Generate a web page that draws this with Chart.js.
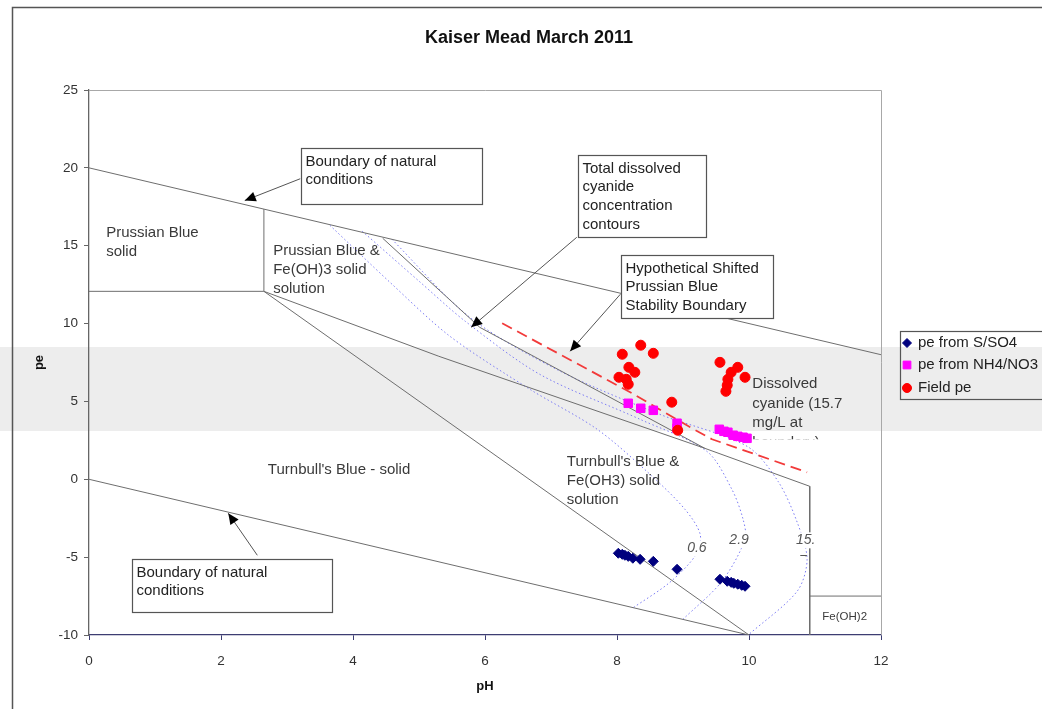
<!DOCTYPE html>
<html>
<head>
<meta charset="utf-8">
<title>Kaiser Mead March 2011</title>
<script src="https://cdn.jsdelivr.net/npm/chart.js@4.4.0/dist/chart.umd.min.js"></script>
<style>
  html, body { margin: 0; padding: 0; background: #fff; }
  #wrap { width: 1042px; height: 709px; }
</style>
</head>
<body>
<div id="wrap"><canvas id="chart" width="1042" height="709"></canvas></div>
<script>
// ---------- measured points ----------
const sulfatePH = [8.02, 8.08, 8.12, 8.17, 8.24, 8.35, 8.55, 8.91, 9.56, 9.67, 9.73, 9.77, 9.83, 9.89, 9.94];
const sulfatePE = [-4.75, -4.82, -4.88, -4.95, -5.07, -5.14, -5.27, -5.78, -6.42, -6.55, -6.62, -6.68, -6.74, -6.81, -6.87];

const nitratePH = [8.17, 8.36, 8.55, 8.91, 8.91, 9.55, 9.62, 9.68, 9.76, 9.83, 9.91, 9.97];
const nitratePE = [4.88, 4.56, 4.43, 3.60, 3.28, 3.21, 3.08, 3.02, 2.83, 2.76, 2.70, 2.63];

const fieldPH = [8.08, 8.36, 8.55, 8.18, 8.27, 8.03, 8.14, 8.17, 8.83, 8.92, 9.56, 9.83, 9.94, 9.73, 9.68, 9.67, 9.65];
const fieldPE = [8.03, 8.61, 8.09, 7.19, 6.87, 6.55, 6.42, 6.10, 4.95, 3.15, 7.51, 7.19, 6.55, 6.87, 6.42, 6.04, 5.65];

// ---------- stability field boundaries ----------
const upperNaturalPH = [0, 12];
const upperNaturalPE = [20, 8];
const lowerNaturalPH = [0, 10];
const lowerNaturalPE = [0, -10];
const prussianBoxPH = [0, 2.65, 2.65];
const prussianBoxPE = [12.07, 12.07, 17.35];
const turnbullSteepPH = [2.65, 10];
const turnbullSteepPE = [12.07, -10];
const turnbullUpperPH = [2.65, 5.3, 9.33];
const turnbullUpperPE = [12.07, 7.9, 1.99];
const dissolvedEdgePH = [4.45, 5.92, 9.33, 10.92, 10.92];
const dissolvedEdgePE = [15.48, 9.76, 1.99, -0.45, -10];
const ferrousEdgePH = [10.92, 12];
const ferrousEdgePE = [-7.5, -7.5];

// hypothetical shifted Prussian Blue boundary
const shiftedPH = [6.26, 8.20, 9.11, 9.44, 10.88];
const shiftedPE = [10.02, 5.59, 3.34, 2.57, 0.45];

// total dissolved cyanide contours (mg/L)
const contourLevels = ['0.6', '2.9', '15.7'];
const contour06PH = [3.65, 4.56, 5.47, 6.68, 7.70, 8.50, 9.03, 9.26, 9.20, 8.80, 8.23];
const contour06PE = [16.31, 12.65, 9.18, 5.78, 3.21, 0.32, -1.93, -3.53, -4.82, -6.62, -8.29];
const contour29PH = [4.14, 5.02, 5.70, 6.83, 8.35, 9.36, 9.74, 9.91, 9.94, 9.59, 9.00];
const contour29PE = [15.93, 12.65, 10.15, 6.74, 3.85, 1.80, -0.64, -2.57, -3.85, -6.55, -8.99];
const contour157PH = [4.59, 5.77, 7.14, 8.65, 9.97, 10.44, 10.73, 10.88, 10.73, 10.0];
const contour157PE = [15.41, 10.40, 6.94, 4.17, 2.12, -0.13, -2.76, -5.14, -7.19, -9.96];

const xTicks = [0, 2, 4, 6, 8, 10, 12];
const yTicks = [-10, -5, 0, 5, 10, 15, 20, 25];

const FONT = "'Liberation Sans', Arial, sans-serif";

function pts(xs, ys) {
  return xs.map((x, i) => ({ x: x, y: ys[i] }));
}

function boundary(xs, ys) {
  return {
    data: pts(xs, ys), showLine: true, pointRadius: 0,
    borderColor: '#6e6e6e', borderWidth: 1, order: 5
  };
}

function contour(xs, ys) {
  return {
    data: pts(xs, ys), showLine: true, pointRadius: 0, tension: 0.3,
    borderColor: '#7b7bf5', borderWidth: 1, borderDash: [1.5, 2.5], order: 6
  };
}

// ---------- annotation layout (pH / pe) ----------
const regionLabels = [
  { x: 0.26, y: 15.8, lines: ['Prussian Blue', 'solid'] },
  { x: 2.79, y: 14.64, lines: ['Prussian Blue &', 'Fe(OH)3 solid', 'solution'] },
  { x: 2.71, y: 0.58, lines: ["Turnbull's Blue - solid"] },
  { x: 7.24, y: 1.15, lines: ["Turnbull's Blue &", 'Fe(OH3) solid', 'solution'] }
];

const calloutBoxes = [
  { x0: 3.21, y0: 21.26, x1: 5.95, y1: 17.66, lines: ['Boundary of natural', 'conditions'],
    from: [3.2, 19.3], to: [2.36, 17.9] },
  { x0: 7.41, y0: 20.81, x1: 9.35, y1: 15.54, lines: ['Total dissolved', 'cyanide', 'concentration', 'contours'],
    from: [7.39, 15.54], to: [5.79, 9.76] },
  { x0: 8.06, y0: 14.39, x1: 10.36, y1: 10.34, lines: ['Hypothetical Shifted', 'Prussian Blue', 'Stability Boundary'],
    from: [8.05, 11.88], to: [7.29, 8.22] },
  { x0: 0.65, y0: -5.14, x1: 3.68, y1: -8.54, lines: ['Boundary of natural', 'conditions'],
    from: [2.55, -4.88], to: [2.11, -2.18] }
];

const contourTags = [
  { x: 9.21, y: -4.43, text: contourLevels[0] },
  { x: 9.85, y: -3.92, text: contourLevels[1] },
  { x: 10.86, y: -3.92, text: contourLevels[2] }
];

function arrow(ctx, x0, y0, x1, y1) {
  ctx.strokeStyle = '#555';
  ctx.lineWidth = 1;
  ctx.beginPath();
  ctx.moveTo(x0, y0);
  ctx.lineTo(x1, y1);
  ctx.stroke();
  const a = Math.atan2(y1 - y0, x1 - x0), L = 11, W = 5;
  ctx.fillStyle = '#000';
  ctx.beginPath();
  ctx.moveTo(x1, y1);
  ctx.lineTo(x1 - L * Math.cos(a) + W * Math.sin(a), y1 - L * Math.sin(a) - W * Math.cos(a));
  ctx.lineTo(x1 - L * Math.cos(a) - W * Math.sin(a), y1 - L * Math.sin(a) + W * Math.cos(a));
  ctx.closePath();
  ctx.fill();
}

const decor = {
  id: 'decor',
  beforeDraw(chart) {
    const ctx = chart.ctx;
    ctx.save();
    ctx.fillStyle = '#fff';
    ctx.fillRect(0, 0, chart.width, chart.height);
    // grey band across the page
    ctx.fillStyle = '#ededed';
    ctx.fillRect(0, 347, chart.width, 84);
    // outer frame
    ctx.strokeStyle = '#555';
    ctx.lineWidth = 1.5;
    ctx.strokeRect(12.5, 7.5, chart.width + 10, chart.height);
    ctx.restore();
  },
  afterDatasetsDraw(chart) {
    const ctx = chart.ctx;
    const xs = chart.scales.x, ys = chart.scales.y;
    const px = v => xs.getPixelForValue(v);
    const py = v => ys.getPixelForValue(v);
    const area = chart.chartArea;
    ctx.save();

    // top and right plot frame
    ctx.strokeStyle = '#a8a8a8';
    ctx.lineWidth = 1;
    ctx.beginPath();
    ctx.moveTo(area.left, area.top + 0.5);
    ctx.lineTo(area.right + 0.5, area.top + 0.5);
    ctx.lineTo(area.right + 0.5, area.bottom);
    ctx.stroke();

    // title
    ctx.fillStyle = '#111';
    ctx.font = 'bold 18px ' + FONT;
    ctx.textAlign = 'center';
    ctx.textBaseline = 'middle';
    ctx.fillText('Kaiser Mead March 2011', 529, 38);

    // region labels
    ctx.font = '15px ' + FONT;
    ctx.textAlign = 'left';
    ctx.fillStyle = '#3a3a3a';
    regionLabels.forEach(l => {
      l.lines.forEach((t, i) => ctx.fillText(t, px(l.x), py(l.y) + i * 19));
    });

    // dissolved cyanide note, last line cut off by its text box
    const dx = px(10.05), dy = py(6.1);
    ['Dissolved', 'cyanide (15.7', 'mg/L at'].forEach((t, i) => ctx.fillText(t, dx, dy + i * 19.5));
    ctx.save();
    ctx.beginPath();
    ctx.rect(dx - 2, dy + 49, 120, 6);
    ctx.clip();
    ctx.fillText('boundary)', dx, dy + 58.5);
    ctx.restore();

    // Fe(OH)2 corner field
    ctx.font = '11.5px ' + FONT;
    ctx.textAlign = 'center';
    ctx.fillText('Fe(OH)2', px(11.45), py(-8.85));

    // contour level tags
    ctx.font = 'italic 14px ' + FONT;
    contourTags.forEach(t => {
      const s = t.text.length > 3 ? t.text.slice(0, 3) : t.text;
      const w = ctx.measureText(s).width;
      const cx = px(t.x), cy = py(t.y);
      ctx.fillStyle = '#fff';
      ctx.fillRect(cx - w / 2 - 1, cy - 8, w + 2, 16);
      ctx.fillStyle = '#555';
      ctx.fillText(s, cx, cy);
      if (t.text.length > 3) {
        ctx.save();
        ctx.beginPath();
        ctx.rect(cx - 10, cy + 13, 20, 3);
        ctx.clip();
        ctx.fillText(t.text.slice(3), cx - 3, cy + 21);
        ctx.restore();
      }
    });

    // callout boxes with arrows
    ctx.font = '15px ' + FONT;
    ctx.textAlign = 'left';
    calloutBoxes.forEach(b => {
      arrow(ctx, px(b.from[0]), py(b.from[1]), px(b.to[0]), py(b.to[1]));
      const x0 = Math.round(px(b.x0)) + 0.5, y0 = Math.round(py(b.y0)) + 0.5;
      const w = Math.round(px(b.x1) - px(b.x0)), h = Math.round(py(b.y1) - py(b.y0));
      ctx.fillStyle = '#fff';
      ctx.fillRect(x0, y0, w, h);
      ctx.strokeStyle = '#555';
      ctx.lineWidth = 1.2;
      ctx.strokeRect(x0, y0, w, h);
      ctx.fillStyle = '#222';
      b.lines.forEach((t, i) => ctx.fillText(t, x0 + 4, y0 + 13 + i * 18.8));
    });

    // legend
    ctx.strokeStyle = '#555';
    ctx.lineWidth = 1.2;
    ctx.strokeRect(900.5, 331.5, 160, 68);
    ctx.font = '15px ' + FONT;
    const legendRows = [
      ['pe from S/SO4', 343],
      ['pe from NH4/NO3', 365],
      ['Field pe', 388]
    ];
    legendRows.forEach((r, i) => {
      const o = chart.getDatasetMeta(i).data[0].options;
      ctx.fillStyle = o.backgroundColor;
      ctx.strokeStyle = o.borderColor;
      ctx.lineWidth = 1;
      Chart.helpers.drawPoint(ctx, {
        pointStyle: o.pointStyle, radius: o.radius - 0.5, rotation: 0, borderWidth: 1
      }, 907, r[1]);
      ctx.fillStyle = '#222';
      ctx.fillText(r[0], 918, r[1]);
    });

    ctx.restore();
  }
};

const chart = new Chart(document.getElementById('chart'), {
  type: 'scatter',
  data: {
    datasets: [
      { label: 'pe from S/SO4', data: pts(sulfatePH, sulfatePE), pointStyle: 'rectRot',
        pointRadius: 5, backgroundColor: '#00007e', borderColor: '#00007e', borderWidth: 1, order: 0 },
      { label: 'pe from NH4/NO3', data: pts(nitratePH, nitratePE), pointStyle: 'rect',
        pointRadius: 6, backgroundColor: '#ff00ff', borderColor: '#ff00ff', borderWidth: 1, order: 1 },
      { label: 'Field pe', data: pts(fieldPH, fieldPE), pointStyle: 'circle',
        pointRadius: 5, backgroundColor: '#ff0000', borderColor: '#ff0000', borderWidth: 1, order: 0 },
      boundary(upperNaturalPH, upperNaturalPE),
      boundary(lowerNaturalPH, lowerNaturalPE),
      boundary(prussianBoxPH, prussianBoxPE),
      boundary(turnbullSteepPH, turnbullSteepPE),
      boundary(turnbullUpperPH, turnbullUpperPE),
      boundary(dissolvedEdgePH, dissolvedEdgePE),
      boundary(ferrousEdgePH, ferrousEdgePE),
      contour(contour06PH, contour06PE),
      contour(contour29PH, contour29PE),
      contour(contour157PH, contour157PE),
      { data: pts(shiftedPH, shiftedPE), showLine: true, pointRadius: 0,
        borderColor: '#f23a3a', borderWidth: 1.8, borderDash: [11, 6], order: 4 }
    ]
  },
  options: {
    responsive: false,
    animation: false,
    events: [],
    layout: { padding: { left: 28, right: 161, top: 90, bottom: 15 } },
    plugins: { legend: { display: false }, tooltip: { enabled: false } },
    scales: {
      x: {
        type: 'linear', min: 0, max: 12,
        afterBuildTicks: s => { s.ticks = xTicks.map(v => ({ value: v })); },
        afterFit: s => { s.height = 59; },
        ticks: { color: '#333', padding: 13, font: { family: FONT, size: 13.5 } },
        grid: { drawOnChartArea: false, tickLength: 5, color: '#3d3d72' },
        border: { color: '#3d3d72', width: 1.3 },
        title: { display: true, text: 'pH', color: '#111', padding: 0,
          font: { family: FONT, size: 13, weight: 'bold' } }
      },
      y: {
        type: 'linear', min: -10, max: 25,
        afterBuildTicks: s => { s.ticks = yTicks.map(v => ({ value: v })); },
        afterFit: s => { s.width = 61; },
        ticks: { color: '#333', padding: 6, font: { family: FONT, size: 13.5 } },
        grid: { drawOnChartArea: false, tickLength: 5, color: '#666' },
        border: { color: '#666', width: 1.3 },
        title: { display: true, text: 'pe', color: '#111', padding: 4,
          font: { family: FONT, size: 13, weight: 'bold' } }
      }
    }
  },
  plugins: [decor]
});
</script>
</body>
</html>
